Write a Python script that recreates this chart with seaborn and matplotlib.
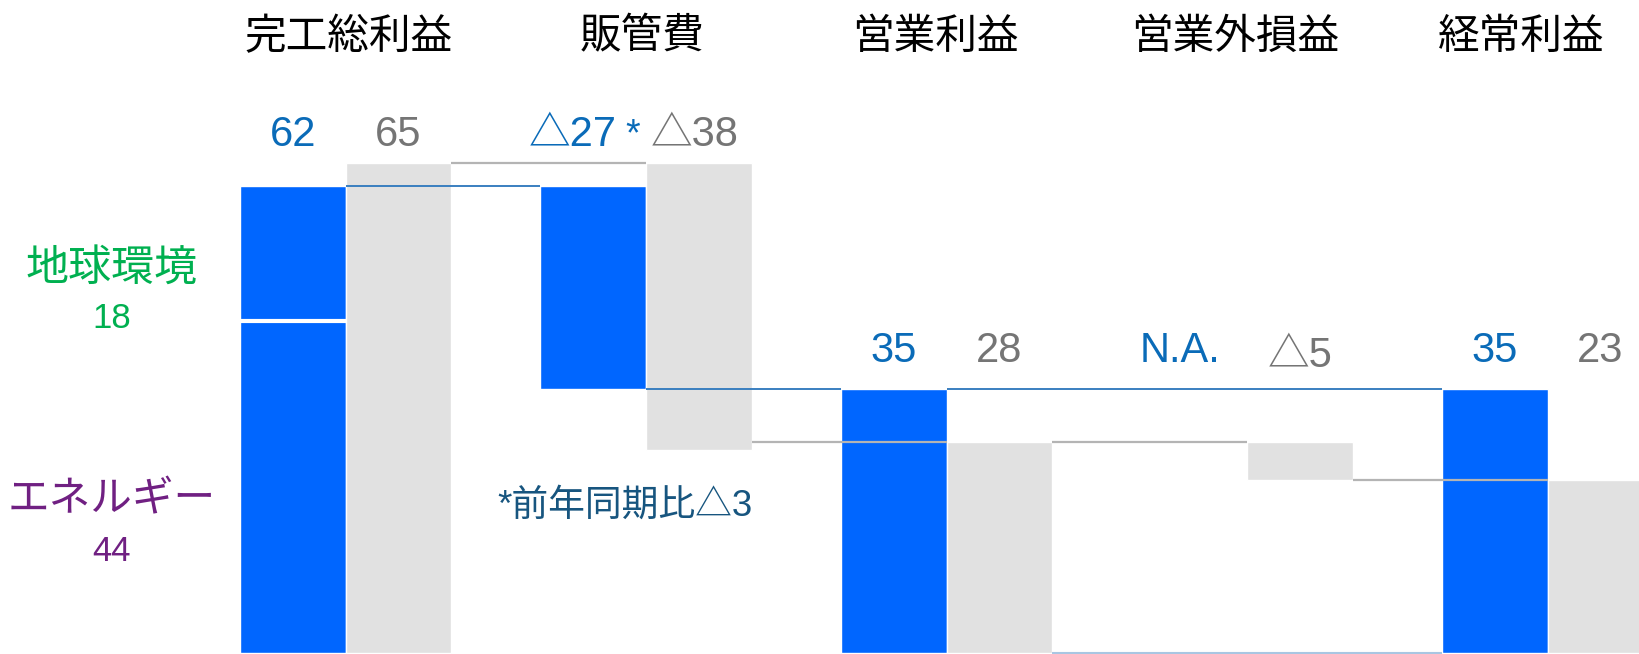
import numpy as np
import pandas as pd
import matplotlib
matplotlib.use("Agg")
import matplotlib.pyplot as plt
import seaborn as sns

# ---------------- data ----------------
categories = ["完工総利益", "販管費", "営業利益", "営業外損益", "経常利益"]
bar_kinds = ["total", "delta", "total", "delta", "total"]
current_values = [62, -27, 35, np.nan, 35]      # 当期 (N.A. for 営業外損益)
prior_values = [65, -38, 28, -5, 23]            # 前期
current_labels = ["62", "△27", "35", "N.A.", "35"]
prior_labels = ["65", "△38", "28", "△5", "23"]
segment_names = ["地球環境", "エネルギー"]
segment_values = [18, 44]                       # top, bottom of 完工総利益 (当期)
note_text = "*前年同期比△3"
series_names = ["当期", "前期"]

# ---------------- style ----------------
BLUE = "#0066FF"
GREY = "#E1E1E1"
BLUE_TXT = "#0A6BB8"
GREY_TXT = "#757575"
NOTE_TXT = "#17557F"
GREEN = "#00B050"
PURPLE = "#702082"
BLUE_LINE = "#3A7FC0"
GREY_LINE = "#B4B4B4"

sns.set_theme(style="white")
plt.rcParams["font.family"] = ["Liberation Sans", "Noto Sans CJK JP", "DejaVu Sans"]

W = 0.352          # single bar width
OFF = W / 2        # dodge offset


def spans(values, kinds):
    level = 0.0
    out = []
    for v, k in zip(values, kinds):
        if np.isnan(v):
            out.append(None)
            continue
        if k == "total":
            out.append((0.0, v, v, v))          # (bottom, top, start, end)
            level = v
        else:
            out.append((level, level + v, level, level + v))
            level = level + v
    return out


cur_spans = spans(np.array(current_values, float), bar_kinds)
pri_spans = spans(np.array(prior_values, float), bar_kinds)

fig = plt.figure(figsize=(16.39, 6.54), dpi=100)
ax = fig.add_axes([0, 0, 1, 1])

# totals (bars from zero) through seaborn
rows = []
for i, c in enumerate(categories):
    if bar_kinds[i] == "total":
        if not np.isnan(current_values[i]):
            rows.append({"category": c, "series": series_names[0], "value": current_values[i]})
        rows.append({"category": c, "series": series_names[1], "value": prior_values[i]})
df = pd.DataFrame(rows)
sns.barplot(data=df, x="category", y="value", hue="series", order=categories,
            hue_order=series_names, palette={series_names[0]: BLUE, series_names[1]: GREY},
            width=2 * W, gap=0, saturation=1, errorbar=None, legend=False,
            edgecolor="white", linewidth=1, ax=ax, zorder=2)

# floating delta bars
for i, k in enumerate(bar_kinds):
    if k != "delta":
        continue
    for sp, dx, col in ((cur_spans[i], -OFF, BLUE), (pri_spans[i], OFF, GREY)):
        if sp is None:
            continue
        lo, hi = min(sp[0], sp[1]), max(sp[0], sp[1])
        ax.bar(i + dx, hi - lo, bottom=lo, width=W, color=col,
               edgecolor="white", linewidth=1, zorder=2)

# split of 完工総利益 into segments
ax.hlines(segment_values[1], -W, 0, color="white", lw=3, zorder=3)

# connectors
def connectors(sp_list, dx, color, lw):
    idx = [i for i, s in enumerate(sp_list) if s is not None]
    for a, b in zip(idx[:-1], idx[1:]):
        level = sp_list[b][2]
        x0 = a + dx + OFF
        x1 = b + dx - OFF
        ax.hlines(level, x0, x1, color=color, lw=lw, zorder=3)

connectors(cur_spans, -OFF, BLUE_LINE, 1.4)
connectors(pri_spans, OFF, GREY_LINE, 1.6)

# zero line for the N.A. bar
for i, v in enumerate(current_values):
    if np.isnan(v):
        ax.hlines(0.12, i - 1 + W, i + 1 - W, color="#A9C6E2", lw=1.5, zorder=3)

# headers
header_dx = [0.011, -0.013, -0.037, -0.040, -0.087]
for i, c in enumerate(categories):
    ax.text(i + header_dx[i], 81.6, c, ha="center", va="center", fontsize=30,
            color="black")

# value labels
top_row, low_row = 67.3, 38.6
for i, k in enumerate(bar_kinds):
    row = top_row if i < 2 else low_row
    if i == 1:
        ax.text(i - 0.098, row, current_labels[i], ha="right", va="baseline",
                fontsize=30, color=BLUE_TXT)
        ax.text(i - 0.046, row, "*", ha="center", va="baseline",
                fontsize=27, color=BLUE_TXT)
        ax.text(i + OFF - 0.013, row, prior_labels[i], ha="center", va="baseline",
                fontsize=30, color=GREY_TXT)
        continue
    cdx = -OFF - (0.047 if np.isnan(current_values[i]) else 0.0)
    ax.text(i + cdx, row, current_labels[i], ha="center", va="baseline",
            fontsize=30, color=BLUE_TXT)
    prow = row - 0.7 if k == "delta" else row
    ax.text(i + OFF, prow, prior_labels[i], ha="center", va="baseline",
            fontsize=30, color=GREY_TXT)

# segment labels
ax.text(-0.778, 50.9, segment_names[0], ha="center", va="center", fontsize=31, color=GREEN)
ax.text(-0.778, 43.1, str(segment_values[0]), ha="center", va="baseline", fontsize=25, color=GREEN)
ax.text(-0.778, 20.3, segment_names[1], ha="center", va="center", fontsize=30, color=PURPLE)
ax.text(-0.778, 12.3, str(segment_values[1]), ha="center", va="baseline", fontsize=25, color=PURPLE)

# footnote
ax.text(0.93, 19.5, note_text, ha="center", va="center", fontsize=26.5, color=NOTE_TXT)

ax.set_xlim(-1.150, 4.304)
ax.set_ylim(-0.07, 86.6)
ax.axis("off")

fig.savefig("out.png", dpi=100)
